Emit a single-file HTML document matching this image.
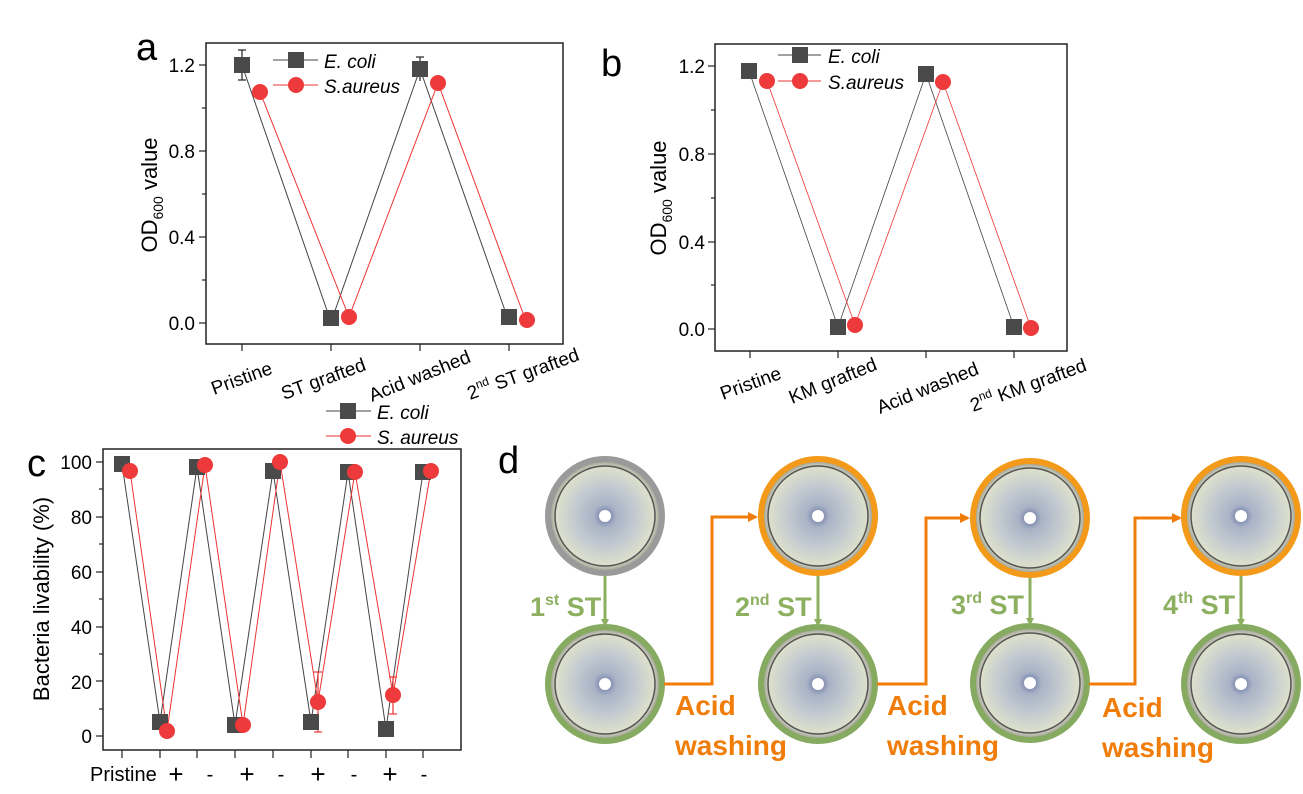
<!DOCTYPE html>
<html><head><meta charset="utf-8"><style>
html,body{margin:0;padding:0;background:#fff}
svg{display:block}
text{font-family:"Liberation Sans",Arial,sans-serif}
</style></head><body>
<svg width="1303" height="794" viewBox="0 0 1303 794" xmlns="http://www.w3.org/2000/svg">
<defs>
<radialGradient id="dish" cx="50%" cy="50%" r="50%">
<stop offset="0" stop-color="#5f6f9e"/>
<stop offset="0.2" stop-color="#a9b3c6"/>
<stop offset="0.55" stop-color="#c4cbd0"/>
<stop offset="0.85" stop-color="#dcdfcc"/>
<stop offset="1" stop-color="#8a8a80"/>
</radialGradient>
<marker id="ag" markerWidth="8" markerHeight="8" refX="6" refY="4" orient="auto" markerUnits="userSpaceOnUse"><path d="M0,0 L8,4 L0,8 Z" fill="#8db060"/></marker>
<marker id="ao" markerWidth="10" markerHeight="10" refX="8" refY="5" orient="auto" markerUnits="userSpaceOnUse"><path d="M0,0 L10,5 L0,10 Z" fill="#f07d0a"/></marker>
</defs>

<!-- Panel a -->
<text x="136" y="60" font-size="38">a</text>
<rect x="206" y="43" width="357" height="301" fill="none" stroke="#222" stroke-width="1.5"/>
<g stroke="#222" stroke-width="1.2">
<line x1="199" y1="65" x2="206" y2="65"/><line x1="202" y1="108" x2="206" y2="108"/>
<line x1="199" y1="151" x2="206" y2="151"/><line x1="202" y1="194" x2="206" y2="194"/>
<line x1="199" y1="237" x2="206" y2="237"/><line x1="202" y1="280" x2="206" y2="280"/>
<line x1="199" y1="323" x2="206" y2="323"/>
<line x1="242" y1="344" x2="242" y2="351"/><line x1="331" y1="344" x2="331" y2="351"/>
<line x1="420" y1="344" x2="420" y2="351"/><line x1="509" y1="344" x2="509" y2="351"/>
</g>
<g font-size="19" text-anchor="end">
<text x="195" y="72">1.2</text><text x="195" y="158">0.8</text><text x="195" y="244">0.4</text><text x="195" y="330">0.0</text>
</g>
<text transform="translate(157,195) rotate(-90)" font-size="22" text-anchor="middle">OD<tspan font-size="14" dy="6">600</tspan><tspan dy="-6"> value</tspan></text>
<polyline points="242,65 331,322 420,69 509,322" fill="none" stroke="#444" stroke-width="1"/>
<polyline points="260,92 349,317 438,83 527,324" fill="none" stroke="#ee3333" stroke-width="1"/>
<g stroke="#222" stroke-width="1.2"><line x1="242" y1="50" x2="242" y2="80"/><line x1="238" y1="50" x2="246" y2="50"/><line x1="238" y1="80" x2="246" y2="80"/>
<line x1="420" y1="57" x2="420" y2="81"/><line x1="416" y1="57" x2="424" y2="57"/></g>
<g fill="#4a4a4a"><rect x="234" y="57" width="16" height="16"/><rect x="323" y="310" width="16" height="16"/><rect x="412" y="61" width="16" height="16"/><rect x="501" y="309" width="16" height="16"/></g>
<g fill="#ee3a3a"><circle cx="260" cy="92" r="8"/><circle cx="349" cy="317" r="8"/><circle cx="438" cy="83" r="8"/><circle cx="527" cy="320" r="8"/></g>
<line x1="273" y1="60" x2="318" y2="60" stroke="#444"/><rect x="288" y="52" width="16" height="16" fill="#4a4a4a"/>
<line x1="273" y1="85" x2="318" y2="85" stroke="#ee3333"/><circle cx="296" cy="85" r="8" fill="#ee3a3a"/>
<text x="324" y="68" font-size="19" font-style="italic">E. coli</text>
<text x="324" y="93" font-size="19" font-style="italic">S.aureus</text>
<g font-size="19">
<text transform="translate(214,395) rotate(-20)">Pristine</text>
<text transform="translate(284,400) rotate(-20)">ST grafted</text>
<text transform="translate(372,402) rotate(-22)">Acid washed</text>
<text transform="translate(470,400) rotate(-20)">2<tspan font-size="12" dy="-8">nd</tspan><tspan dy="8"> ST grafted</tspan></text>
</g>

<!-- Panel b -->
<text x="601" y="76" font-size="38">b</text>
<rect x="715" y="44" width="352" height="307" fill="none" stroke="#222" stroke-width="1.5"/>
<g stroke="#222" stroke-width="1.2">
<line x1="708" y1="66" x2="715" y2="66"/><line x1="711" y1="110" x2="715" y2="110"/>
<line x1="708" y1="154" x2="715" y2="154"/><line x1="711" y1="198" x2="715" y2="198"/>
<line x1="708" y1="242" x2="715" y2="242"/><line x1="711" y1="285" x2="715" y2="285"/>
<line x1="708" y1="329" x2="715" y2="329"/>
<line x1="750" y1="351" x2="750" y2="358"/><line x1="838" y1="351" x2="838" y2="358"/>
<line x1="926" y1="351" x2="926" y2="358"/><line x1="1014" y1="351" x2="1014" y2="358"/>
</g>
<g font-size="19" text-anchor="end">
<text x="705" y="73">1.2</text><text x="705" y="161">0.8</text><text x="705" y="249">0.4</text><text x="705" y="336">0.0</text>
</g>
<text transform="translate(666,198) rotate(-90)" font-size="22" text-anchor="middle">OD<tspan font-size="14" dy="6">600</tspan><tspan dy="-6"> value</tspan></text>
<polyline points="749,71 838,327 926,74 1014,327" fill="none" stroke="#444" stroke-width="0.8"/>
<polyline points="767,81 855,325 943,82 1031,328" fill="none" stroke="#ee3333" stroke-width="0.8"/>
<g fill="#4a4a4a"><rect x="741" y="63" width="16" height="16"/><rect x="830" y="319" width="16" height="16"/><rect x="918" y="66" width="16" height="16"/><rect x="1006" y="319" width="16" height="16"/></g>
<g fill="#ee3a3a"><circle cx="767" cy="81" r="8"/><circle cx="855" cy="325" r="8"/><circle cx="943" cy="82" r="8"/><circle cx="1031" cy="328" r="8"/></g>
<line x1="778" y1="55" x2="821" y2="55" stroke="#444"/><rect x="792" y="47" width="16" height="16" fill="#4a4a4a"/>
<line x1="778" y1="81" x2="821" y2="81" stroke="#ee3333"/><circle cx="800" cy="81" r="8" fill="#ee3a3a"/>
<text x="828" y="63" font-size="19" font-style="italic">E. coli</text>
<text x="828" y="89" font-size="19" font-style="italic">S.aureus</text>
<g font-size="19">
<text transform="translate(723,400) rotate(-20)">Pristine</text>
<text transform="translate(792,404) rotate(-22)">KM grafted</text>
<text transform="translate(880,414) rotate(-22)">Acid washed</text>
<text transform="translate(973,412) rotate(-20)">2<tspan font-size="12" dy="-8">nd</tspan><tspan dy="8"> KM grafted</tspan></text>
</g>

<!-- Panel c -->
<text x="27" y="476" font-size="38">c</text>
<rect x="103" y="449" width="358" height="301" fill="none" stroke="#222" stroke-width="1.5"/>
<g stroke="#222" stroke-width="1.2">
<line x1="96" y1="462" x2="103" y2="462"/><line x1="99" y1="489" x2="103" y2="489"/>
<line x1="96" y1="517" x2="103" y2="517"/><line x1="99" y1="544" x2="103" y2="544"/>
<line x1="96" y1="572" x2="103" y2="572"/><line x1="99" y1="599" x2="103" y2="599"/>
<line x1="96" y1="627" x2="103" y2="627"/><line x1="99" y1="654" x2="103" y2="654"/>
<line x1="96" y1="681" x2="103" y2="681"/><line x1="99" y1="709" x2="103" y2="709"/>
<line x1="96" y1="736" x2="103" y2="736"/>
<line x1="122" y1="750" x2="122" y2="758"/><line x1="160" y1="750" x2="160" y2="758"/><line x1="197" y1="750" x2="197" y2="758"/>
<line x1="235" y1="750" x2="235" y2="758"/><line x1="273" y1="750" x2="273" y2="758"/><line x1="311" y1="750" x2="311" y2="758"/>
<line x1="348" y1="750" x2="348" y2="758"/><line x1="386" y1="750" x2="386" y2="758"/><line x1="423" y1="750" x2="423" y2="758"/>
</g>
<g font-size="19" text-anchor="end">
<text x="92" y="469">100</text><text x="92" y="524">80</text><text x="92" y="579">60</text><text x="92" y="634">40</text><text x="92" y="689">20</text><text x="92" y="743">0</text>
</g>
<text transform="translate(49,599) rotate(-90)" font-size="22" text-anchor="middle">Bacteria livability (%)</text>
<polyline points="122,464 160,722 197,467 235,725 273,471 311,722 348,472 386,729 423,472" fill="none" stroke="#444" stroke-width="1"/>
<polyline points="130,471 167,731 205,465 243,725 280,462 318,702 355,472 393,695 431,470" fill="none" stroke="#ee3333" stroke-width="1"/>
<g stroke="#ee3333" stroke-width="1.2"><line x1="318" y1="672" x2="318" y2="732"/><line x1="314" y1="672" x2="322" y2="672"/><line x1="314" y1="732" x2="322" y2="732"/>
<line x1="393" y1="677" x2="393" y2="714"/><line x1="389" y1="677" x2="397" y2="677"/><line x1="389" y1="714" x2="397" y2="714"/></g>
<g fill="#4a4a4a"><rect x="114" y="456" width="16" height="16"/><rect x="152" y="714" width="16" height="16"/><rect x="189" y="459" width="16" height="16"/><rect x="227" y="717" width="16" height="16"/><rect x="265" y="463" width="16" height="16"/><rect x="303" y="714" width="16" height="16"/><rect x="340" y="464" width="16" height="16"/><rect x="378" y="721" width="16" height="16"/><rect x="415" y="464" width="16" height="16"/></g>
<g fill="#ee3a3a"><circle cx="130" cy="471" r="8"/><circle cx="167" cy="731" r="8"/><circle cx="205" cy="465" r="8"/><circle cx="243" cy="725" r="8"/><circle cx="280" cy="462" r="8"/><circle cx="318" cy="702" r="8"/><circle cx="355" cy="472" r="8"/><circle cx="393" cy="695" r="8"/><circle cx="431" cy="471" r="8"/></g>
<line x1="326" y1="411" x2="371" y2="411" stroke="#444"/><rect x="340" y="403" width="16" height="16" fill="#4a4a4a"/>
<line x1="326" y1="436" x2="371" y2="436" stroke="#ee3333"/><circle cx="348" cy="436" r="8" fill="#ee3a3a"/>
<text x="377" y="419" font-size="19" font-style="italic">E. coli</text>
<text x="377" y="444" font-size="19" font-style="italic">S. aureus</text>
<g font-size="20">
<text x="90" y="781">Pristine</text>
<text x="176" y="783" text-anchor="middle" font-size="26">+</text><text x="210" y="781" text-anchor="middle">-</text>
<text x="247" y="783" text-anchor="middle" font-size="26">+</text><text x="281" y="781" text-anchor="middle">-</text>
<text x="318" y="783" text-anchor="middle" font-size="26">+</text><text x="354" y="781" text-anchor="middle">-</text>
<text x="390" y="783" text-anchor="middle" font-size="26">+</text><text x="424" y="781" text-anchor="middle">-</text>
</g>

<!-- Panel d -->
<text x="498" y="473" font-size="38">d</text>
<g>
<g><circle cx="605" cy="516" r="57" fill="url(#dish)" stroke="#9a9a9a" stroke-width="6"/><circle cx="605" cy="516" r="50" fill="none" stroke="#555" stroke-width="1.5"/><circle cx="605" cy="516" r="6" fill="#fff"/></g>
<g><circle cx="818" cy="516" r="57" fill="url(#dish)" stroke="#f39a1a" stroke-width="6"/><circle cx="818" cy="516" r="50" fill="none" stroke="#555" stroke-width="1.5"/><circle cx="818" cy="516" r="6" fill="#fff"/></g>
<g><circle cx="1030" cy="518" r="57" fill="url(#dish)" stroke="#f39a1a" stroke-width="6"/><circle cx="1030" cy="518" r="50" fill="none" stroke="#555" stroke-width="1.5"/><circle cx="1030" cy="518" r="6" fill="#fff"/></g>
<g><circle cx="1241" cy="516" r="57" fill="url(#dish)" stroke="#f39a1a" stroke-width="6"/><circle cx="1241" cy="516" r="50" fill="none" stroke="#555" stroke-width="1.5"/><circle cx="1241" cy="516" r="6" fill="#fff"/></g>
<g><circle cx="605" cy="684" r="57" fill="url(#dish)" stroke="#85aa60" stroke-width="6"/><circle cx="605" cy="684" r="50" fill="none" stroke="#555" stroke-width="1.5"/><circle cx="605" cy="684" r="6" fill="#fff"/></g>
<g><circle cx="818" cy="684" r="57" fill="url(#dish)" stroke="#85aa60" stroke-width="6"/><circle cx="818" cy="684" r="50" fill="none" stroke="#555" stroke-width="1.5"/><circle cx="818" cy="684" r="6" fill="#fff"/></g>
<g><circle cx="1030" cy="683" r="57" fill="url(#dish)" stroke="#85aa60" stroke-width="6"/><circle cx="1030" cy="683" r="50" fill="none" stroke="#555" stroke-width="1.5"/><circle cx="1030" cy="683" r="6" fill="#fff"/></g>
<g><circle cx="1241" cy="684" r="57" fill="url(#dish)" stroke="#85aa60" stroke-width="6"/><circle cx="1241" cy="684" r="50" fill="none" stroke="#555" stroke-width="1.5"/><circle cx="1241" cy="684" r="6" fill="#fff"/></g>
</g>
<g stroke="#8db060" stroke-width="3" fill="none">
<line x1="605" y1="576" x2="605" y2="625" marker-end="url(#ag)"/>
<line x1="818" y1="576" x2="818" y2="625" marker-end="url(#ag)"/>
<line x1="1030" y1="578" x2="1030" y2="624" marker-end="url(#ag)"/>
<line x1="1241" y1="576" x2="1241" y2="625" marker-end="url(#ag)"/>
</g>
<g stroke="#f07d0a" stroke-width="3" fill="none">
<polyline points="664,684 712,684 712,517 756,517" marker-end="url(#ao)"/>
<polyline points="877,684 926,684 926,518 968,518" marker-end="url(#ao)"/>
<polyline points="1089,684 1135,684 1135,518 1180,518" marker-end="url(#ao)"/>
</g>
<g fill="#8db060" font-weight="bold" font-size="27">
<text x="530" y="616">1<tspan font-size="16" dy="-11">st</tspan><tspan dy="11"> ST</tspan></text>
<text x="735" y="616">2<tspan font-size="16" dy="-11">nd</tspan><tspan dy="11"> ST</tspan></text>
<text x="951" y="614">3<tspan font-size="16" dy="-11">rd</tspan><tspan dy="11"> ST</tspan></text>
<text x="1163" y="614">4<tspan font-size="16" dy="-11">th</tspan><tspan dy="11"> ST</tspan></text>
</g>
<g fill="#f07d0a" font-weight="bold" font-size="28">
<text x="675" y="715">Acid</text><text x="675" y="755">washing</text>
<text x="887" y="715">Acid</text><text x="887" y="755">washing</text>
<text x="1102" y="717">Acid</text><text x="1102" y="757">washing</text>
</g>
</svg>
</body></html>
